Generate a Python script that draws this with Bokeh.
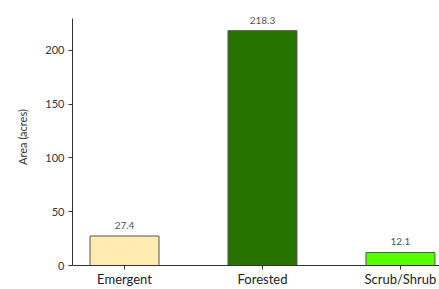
from bokeh.plotting import figure
from bokeh.models import ColumnDataSource, Range1d, FixedTicker
from bokeh.core.properties import value
from bokeh.embed import file_html
from bokeh.resources import INLINE

categories = ["Emergent", "Forested", "Scrub/Shrub"]
areas = [27.4, 218.3, 12.1]
colors = ["#FFEAAF", "#267300", "#55FF00"]
y_ticks = [0, 50, 100, 150, 200]

xs = list(range(len(categories)))
src = ColumnDataSource(dict(x=xs, top=areas, color=colors,
                            label=[f"{v:.1f}" for v in areas]))

FONT = "Lato"
p = figure(width=439, height=289, output_backend="svg", toolbar_location=None,
           x_range=Range1d(-0.377, 2.283), y_range=Range1d(0, 238.9),
           min_border_left=72, min_border_right=0, min_border_top=8,
           min_border_bottom=0)
p.outline_line_color = None
p.grid.visible = False
p.background_fill_color = "white"
p.border_fill_color = "white"

p.vbar(x="x", top="top", width=0.5, bottom=0, fill_color="color",
       line_color="#555555", line_width=1, source=src)
p.text(x="x", y="top", text="label", source=src, text_align="center",
       text_baseline="bottom", y_offset=-7, text_font=value(FONT),
       text_font_size="10px", text_color="#555555")

xa = p.xaxis[0]
xa.ticker = FixedTicker(ticks=xs)
xa.major_label_overrides = {i: c for i, c in enumerate(categories)}
xa.minor_tick_line_color = None
xa.major_tick_out = 4
xa.major_tick_in = 0
xa.major_label_standoff = 1
xa.major_label_text_font = FONT
xa.major_label_text_font_size = "13px"
xa.major_label_text_color = "#222222"
xa.axis_line_color = "#333333"
xa.major_tick_line_color = "#333333"

ya = p.yaxis[0]
ya.ticker = FixedTicker(ticks=y_ticks)
ya.bounds = (0, 229.6)
ya.minor_tick_line_color = None
ya.major_tick_out = 4
ya.major_tick_in = 0
ya.major_label_standoff = 4
ya.major_label_text_font = FONT
ya.major_label_text_font_size = "11px"
ya.major_label_text_color = "#333333"
ya.axis_line_color = "#333333"
ya.major_tick_line_color = "#333333"
ya.axis_label = "Area (acres)"
ya.axis_label_text_font = FONT
ya.axis_label_text_font_size = "11px"
ya.axis_label_text_font_style = "normal"
ya.axis_label_text_color = "#333333"
ya.axis_label_standoff = 13

open("out.html", "w").write(file_html(p, INLINE))
